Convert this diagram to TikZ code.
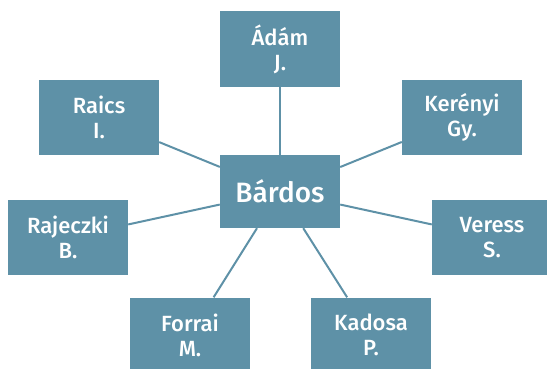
\documentclass[tikz,border=0pt]{standalone}
\usepackage{fontspec}
\setmainfont{Fira Sans Medium}
\definecolor{boxblue}{HTML}{5E91A7}
\tikzset{
    person/.style={fill=boxblue, text=white, minimum width=120pt, minimum height=75pt,
        align=center, inner sep=0pt, font=\fontsize{22}{25}\selectfont},
    link/.style={draw=boxblue, line width=2pt}
}
\begin{document}
\begin{tikzpicture}[x=1pt, y=-1pt]
    \useasboundingbox (0, 0) rectangle (547, 368);

    \node[person, minimum height=73pt, font=\fontsize{28}{30}\selectfont] (bardos) at (280, 191.5) {Bárdos};
    \node[person, minimum height=76pt] (adam) at (280, 49) {Ádám\\J.};
    \node[person] (raics) at (99, 117.5) {Raics\\I.};
    \node[person] (kerenyi) at (462, 117.5) {Kerényi\\Gy.};
    \node[person] (rajeczki) at (68, 237.5) {Rajeczki\\B.};
    \node[person] (veress) at (492, 237.5) {Veress\\S.};
    \node[person] (forrai) at (190, 335) {Forrai\\M.};
    \node[person] (kadosa) at (371, 335) {Kadosa\\P.};

    \foreach \n in {adam, raics, kerenyi, rajeczki, veress, forrai, kadosa}
        \draw[link] (bardos) -- (\n);
\end{tikzpicture}
\end{document}
